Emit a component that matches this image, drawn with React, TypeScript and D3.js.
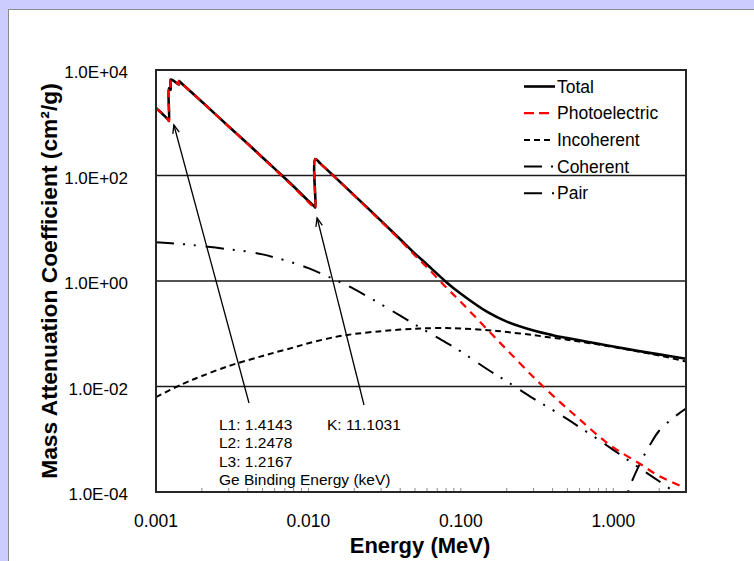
import React, { useEffect, useRef } from 'react';
import * as d3 from 'd3';

// Ge mass attenuation coefficients (cm2/g) vs photon energy (MeV)
const totalE = [0.001, 0.0011, 0.0012, 0.0012167, 0.0012167, 0.0012478, 0.0012478, 0.0013, 0.0014143, 0.0014143, 0.0015, 0.002, 0.003, 0.004, 0.005, 0.006, 0.008, 0.01, 0.011, 0.0111031, 0.0111031, 0.012, 0.015, 0.02, 0.03, 0.04, 0.05, 0.06, 0.08, 0.1, 0.15, 0.2, 0.3, 0.4, 0.5, 0.6, 0.8, 1, 1.5, 2, 3];
const totalV = [1900, 1480, 1150, 1080, 4500, 4200, 6600, 6300, 5300, 6200, 5300, 2500, 850, 400, 220, 135, 62, 33, 25.5, 24.8, 205, 168, 92, 42, 13.8, 6.2, 3.3, 2.06, 0.96, 0.572, 0.256, 0.17, 0.115, 0.094, 0.083, 0.075, 0.0646, 0.0573, 0.0465, 0.0406, 0.0335];

const photoE = totalE;
const photoV = [1895, 1475, 1145, 1075, 4495, 4195, 6595, 6295, 5295, 6195, 5295, 2495, 846, 396, 217, 132, 60, 31.3, 24, 23.3, 203.5, 166.5, 91, 41.2, 13.4, 5.9, 3.05, 1.82, 0.76, 0.40, 0.118, 0.050, 0.0150, 0.0068, 0.0038, 0.0024, 0.00115, 0.00070, 0.00034, 0.00020, 0.000118];

const incohE = [0.001, 0.0015, 0.002, 0.003, 0.004, 0.005, 0.006, 0.008, 0.01, 0.015, 0.02, 0.03, 0.04, 0.05, 0.06, 0.08, 0.1, 0.15, 0.2, 0.3, 0.4, 0.5, 0.6, 0.8, 1, 1.5, 2, 3];
const incohV = [0.0063, 0.0112, 0.0158, 0.0245, 0.0315, 0.038, 0.044, 0.055, 0.066, 0.087, 0.099, 0.112, 0.12, 0.124, 0.127, 0.128, 0.126, 0.117, 0.108, 0.094, 0.084, 0.077, 0.071, 0.0625, 0.056, 0.0455, 0.0388, 0.0298];

const cohE = incohE;
const cohV = [5.4, 5.0, 4.6, 4.0, 3.6, 3.2, 2.8, 2.2, 1.75, 1.05, 0.70, 0.36, 0.22, 0.15, 0.11, 0.068, 0.046, 0.021, 0.0125, 0.0059, 0.0036, 0.0024, 0.0017, 0.00098, 0.00063, 0.00028, 0.00016, 0.00007];

const pairE = [1.15, 1.25, 1.5, 1.75, 2, 2.5, 3];
const pairV = [0.00003, 0.0001, 0.00035, 0.0008, 0.00145, 0.0026, 0.0038];

const xTicks = [0.001, 0.01, 0.1, 1];
const xTickLabels = ['0.001', '0.010', '0.100', '1.000'];
const yTicks = [1e-4, 1e-2, 1, 1e2, 1e4];
const yTickLabels = ['1.0E-04', '1.0E-02', '1.0E+00', '1.0E+02', '1.0E+04'];

const legendNames = ['Total', 'Photoelectric', 'Incoherent', 'Coherent', 'Pair'];
const edgeLabelsL = ['L1: 1.4143', 'L2: 1.2478', 'L3: 1.2167', 'Ge Binding Energy (keV)'];
const edgeLabelK = 'K: 11.1031';

const FONT = '"Liberation Sans", Arial, sans-serif';

const App = () => {
  const svgRef = useRef<SVGSVGElement>(null);
  const width = 754;
  const height = 561;

  useEffect(() => {
    const svg = d3.select(svgRef.current);
    svg.selectAll('*').remove();

    const plot = { left: 156, right: 686, top: 70, bottom: 492 };

    // backdrop: lavender page with white panel
    svg.append('rect').attr('width', width).attr('height', height).attr('fill', '#ccccff');
    svg.append('rect')
      .attr('x', 8.5).attr('y', 9.5)
      .attr('width', 800).attr('height', 600)
      .attr('fill', '#fff').attr('stroke', '#8a8a8a');

    const xScale = d3.scaleLog().domain([0.001, 3]).range([plot.left, plot.right]);
    const yScale = d3.scaleLog().domain([1e-4, 1e4]).range([plot.bottom, plot.top]);

    svg.append('clipPath').attr('id', 'plotClip')
      .append('rect')
      .attr('x', plot.left).attr('y', plot.top)
      .attr('width', plot.right - plot.left).attr('height', plot.bottom - plot.top);

    // gridlines
    svg.append('g')
      .selectAll('line')
      .data([1e-2, 1, 1e2])
      .enter()
      .append('line')
      .attr('x1', plot.left).attr('x2', plot.right)
      .attr('y1', d => yScale(d)).attr('y2', d => yScale(d))
      .attr('stroke', '#1a1a1a').attr('stroke-width', 1.3);

    // x minor ticks (inside)
    const minor: number[] = [];
    [0.001, 0.01, 0.1, 1].forEach(dec => {
      for (let k = 1; k <= 9; k++) {
        const v = dec * k;
        if (v <= 3) minor.push(v);
      }
    });
    svg.append('g')
      .selectAll('line')
      .data(minor)
      .enter()
      .append('line')
      .attr('x1', d => xScale(d)).attr('x2', d => xScale(d))
      .attr('y1', plot.bottom).attr('y2', plot.bottom - 4)
      .attr('stroke', '#8c8c8c').attr('stroke-width', 1);

    const line = (xs: number[]) => d3.line<number>()
      .x((_, i) => xScale(xs[i]))
      .y(d => yScale(d))
      .curve(d3.curveCatmullRom.alpha(0.5));

    const curves = svg.append('g').attr('clip-path', 'url(#plotClip)');

    const series = [
      { e: incohE, v: incohV, color: '#000', w: 2, dash: '6 4' },
      { e: cohE, v: cohV, color: '#000', w: 2, dash: '18 9 2 9 2 10' },
      { e: pairE, v: pairV, color: '#000', w: 2, dash: '18 10 2 10' },
      { e: totalE, v: totalV, color: '#000', w: 2.6, dash: null },
      { e: photoE, v: photoV, color: '#ff0000', w: 2.2, dash: '8 6' },
    ];
    series.forEach(s => {
      curves.append('path')
        .datum(s.v)
        .attr('fill', 'none')
        .attr('stroke', s.color)
        .attr('stroke-width', s.w)
        .attr('stroke-dasharray', s.dash)
        .attr('d', line(s.e));
    });

    // plot frame
    svg.append('rect')
      .attr('x', plot.left).attr('y', plot.top)
      .attr('width', plot.right - plot.left).attr('height', plot.bottom - plot.top)
      .attr('fill', 'none').attr('stroke', '#262626').attr('stroke-width', 2);

    // tick labels
    svg.append('g')
      .selectAll('text')
      .data(yTicks)
      .enter()
      .append('text')
      .attr('x', 128)
      .attr('y', d => yScale(d) + 8)
      .attr('text-anchor', 'end')
      .style('font-family', FONT).style('font-size', '17px')
      .text((_, i) => yTickLabels[i]);

    svg.append('g')
      .selectAll('text')
      .data(xTicks)
      .enter()
      .append('text')
      .attr('x', d => xScale(d))
      .attr('y', 527)
      .attr('text-anchor', 'middle')
      .style('font-family', FONT).style('font-size', '17.5px')
      .text((_, i) => xTickLabels[i]);

    // axis titles
    svg.append('text')
      .attr('transform', 'translate(57,281) rotate(-90)')
      .attr('text-anchor', 'middle')
      .style('font-family', FONT).style('font-size', '22.8px').style('font-weight', 'bold')
      .text('Mass Attenuation Coefficient (cm²/g)');

    svg.append('text')
      .attr('x', 420).attr('y', 553)
      .attr('text-anchor', 'middle')
      .style('font-family', FONT).style('font-size', '22px').style('font-weight', 'bold')
      .text('Energy (MeV)');

    // legend
    const legendDash = [null, '10 5', '6 4', '18 9 2 9 2 10', '18 10 2 10'];
    const legendColor = ['#000', '#ff0000', '#000', '#000', '#000'];
    const legendW = [2.6, 2.2, 2, 2, 2];
    const legendEnd = [555, 552, 552, 556, 556];
    const lg = svg.append('g');
    legendNames.forEach((name, i) => {
      const by = 92.5 + i * 26.7;
      lg.append('line')
        .attr('x1', 524).attr('x2', legendEnd[i])
        .attr('y1', by - 6).attr('y2', by - 6)
        .attr('stroke', legendColor[i]).attr('stroke-width', legendW[i])
        .attr('stroke-dasharray', legendDash[i]);
      lg.append('text')
        .attr('x', 557).attr('y', by)
        .style('font-family', FONT).style('font-size', '17.5px')
        .text(name);
    });

    // edge annotations
    const arrow = (x1: number, y1: number, x2: number, y2: number) => {
      svg.append('line')
        .attr('x1', x1).attr('y1', y1).attr('x2', x2).attr('y2', y2)
        .attr('stroke', '#000').attr('stroke-width', 1.3);
      const a = Math.atan2(y1 - y2, x1 - x2);
      const len = 9;
      const spread = 0.38;
      svg.append('path')
        .attr('d', `M${x2 + len * Math.cos(a - spread)},${y2 + len * Math.sin(a - spread)} L${x2},${y2} L${x2 + len * Math.cos(a + spread)},${y2 + len * Math.sin(a + spread)}`)
        .attr('fill', 'none').attr('stroke', '#000').attr('stroke-width', 1.3);
    };
    arrow(249, 403, xScale(0.00131), 125);
    arrow(364, 405, xScale(0.0114), 218);

    edgeLabelsL.forEach((t, i) => {
      svg.append('text')
        .attr('x', 219).attr('y', 430 + i * 18.4)
        .style('font-family', FONT).style('font-size', '15.5px')
        .text(t);
    });
    svg.append('text')
      .attr('x', 327).attr('y', 430)
      .style('font-family', FONT).style('font-size', '15.5px')
      .text(edgeLabelK);
  }, []);

  return (
    <svg ref={svgRef} width={width} height={height} style={{ position: 'absolute', left: 0, top: 0 }}></svg>
  );
};

export default App;
